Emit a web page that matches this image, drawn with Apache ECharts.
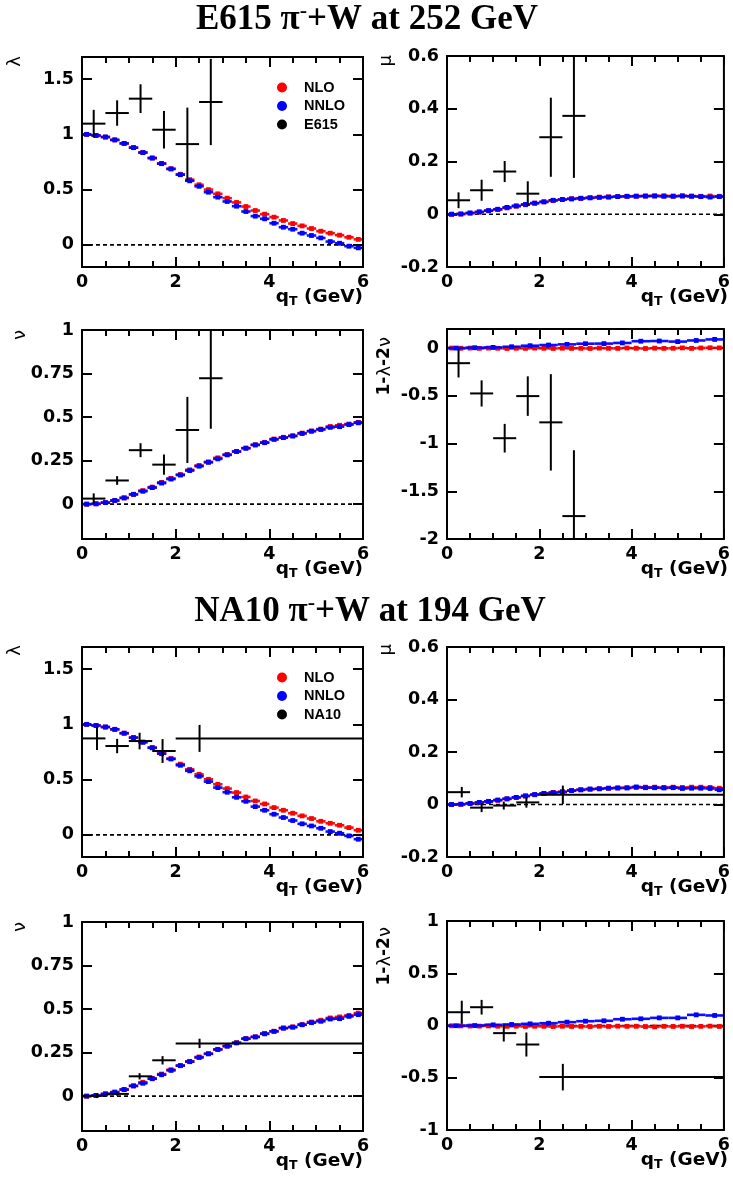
<!DOCTYPE html>
<html>
<head>
<meta charset="utf-8">
<script src="https://cdn.jsdelivr.net/npm/echarts@6/dist/echarts.min.js"></script>
<style>
html,body{margin:0;padding:0;background:#fff;}
#chart{width:733px;height:1183px;}
</style>
</head>
<body>
<div id="chart"></div>
<script>
// ---------------- DATA ----------------
const QT = [0.1,0.3,0.5,0.7,0.9,1.1,1.3,1.5,1.7,1.9,2.1,2.3,2.5,2.7,2.9,3.1,3.3,3.5,3.7,3.9,4.1,4.3,4.5,4.7,4.9,5.1,5.3,5.5,5.7,5.9];
const QT_WIDE = [0.2,0.6,1.0,1.4,1.8,2.2,2.6,3.0,3.4,3.8,4.2,4.6,5.0,5.4,5.8];
const X_TICKS = [0,2,4,6];

// E615 theory
const E615_LAMBDA_NLO  = [1.0,0.99,0.976,0.95,0.918,0.88,0.837,0.787,0.737,0.689,0.639,0.59,0.544,0.5,0.462,0.423,0.384,0.347,0.311,0.278,0.251,0.221,0.193,0.172,0.148,0.124,0.106,0.088,0.069,0.05];
const E615_LAMBDA_NNLO = [1.0,0.99,0.976,0.95,0.918,0.88,0.835,0.785,0.735,0.687,0.635,0.58,0.53,0.477,0.432,0.393,0.35,0.302,0.26,0.236,0.196,0.16,0.142,0.106,0.085,0.063,0.03,0.015,-0.012,-0.027];
const E615_MU_NLO  = [0.0,0.001,0.004,0.008,0.013,0.018,0.024,0.03,0.036,0.042,0.047,0.052,0.056,0.059,0.061,0.063,0.065,0.066,0.067,0.068,0.069,0.069,0.07,0.07,0.069,0.07,0.069,0.068,0.069,0.068];
const E615_MU_NNLO = [0.0,0.001,0.005,0.009,0.014,0.019,0.026,0.032,0.037,0.042,0.047,0.053,0.056,0.058,0.06,0.062,0.064,0.065,0.067,0.068,0.068,0.069,0.069,0.068,0.068,0.069,0.068,0.067,0.065,0.067];
const E615_NU_NLO  = [0.0,0.002,0.009,0.021,0.036,0.057,0.078,0.098,0.125,0.148,0.17,0.197,0.222,0.243,0.266,0.285,0.303,0.322,0.341,0.355,0.374,0.384,0.393,0.408,0.42,0.431,0.446,0.453,0.46,0.47];
const E615_NU_NNLO = [0.0,0.002,0.009,0.021,0.036,0.056,0.074,0.095,0.121,0.144,0.167,0.193,0.218,0.24,0.26,0.283,0.302,0.321,0.34,0.353,0.372,0.382,0.391,0.406,0.419,0.429,0.441,0.445,0.457,0.467];
const E615_LT_NLO  = [0,-0.002,0,-0.003,0,-0.002,-0.004,-0.002,-0.003,0,-0.002,-0.004,-0.001,-0.003,-0.002,-0.004,0,-0.002,-0.003,0.001,-0.002,-0.004,-0.001,-0.003,-0.002,0.002,-0.003,0.001,0.003,0.002];
const E615_LT_NNLO = [0.0,0.004,0.007,0.014,0.025,0.032,0.039,0.046,0.047,0.054,0.072,0.074,0.068,0.08,0.091];

// NA10 theory
const NA10_LAMBDA_NLO  = [1.0,0.99,0.976,0.955,0.92,0.88,0.84,0.79,0.738,0.69,0.64,0.593,0.548,0.503,0.458,0.419,0.383,0.343,0.307,0.28,0.247,0.223,0.196,0.172,0.148,0.123,0.105,0.087,0.066,0.042];
const NA10_LAMBDA_NNLO = [1.0,0.99,0.976,0.955,0.92,0.88,0.838,0.788,0.735,0.687,0.63,0.58,0.53,0.482,0.428,0.386,0.34,0.304,0.256,0.223,0.187,0.157,0.13,0.1,0.081,0.06,0.03,0.015,-0.009,-0.039];
const NA10_MU_NLO  = [0.0,0.001,0.004,0.007,0.011,0.016,0.021,0.027,0.032,0.037,0.042,0.046,0.049,0.053,0.056,0.058,0.06,0.062,0.063,0.064,0.065,0.066,0.066,0.065,0.066,0.065,0.066,0.066,0.065,0.062];
const NA10_MU_NNLO = [0.0,0.001,0.004,0.008,0.012,0.017,0.022,0.027,0.033,0.038,0.042,0.045,0.047,0.053,0.056,0.059,0.06,0.062,0.063,0.063,0.067,0.064,0.064,0.063,0.064,0.061,0.062,0.062,0.061,0.056];
const NA10_NU_NLO  = [0.0,0.004,0.013,0.023,0.038,0.059,0.08,0.102,0.127,0.152,0.176,0.2,0.225,0.244,0.269,0.288,0.307,0.331,0.341,0.36,0.373,0.392,0.398,0.411,0.426,0.436,0.449,0.455,0.464,0.477];
const NA10_NU_NNLO = [0.0,0.004,0.013,0.023,0.038,0.059,0.074,0.1,0.123,0.148,0.175,0.198,0.222,0.243,0.268,0.287,0.306,0.33,0.34,0.358,0.372,0.39,0.396,0.41,0.422,0.43,0.443,0.445,0.458,0.468];
const NA10_LT_NLO  = [-0.003,-0.004,-0.005,-0.006,-0.004,-0.007,-0.008,-0.006,-0.009,-0.007,-0.008,-0.01,-0.007,-0.009,-0.008,-0.01,-0.007,-0.009,-0.006,-0.008,-0.007,-0.01,-0.013,-0.008,-0.009,-0.007,-0.01,-0.008,-0.006,-0.009];
const NA10_LT_NNLO = [-0.002,0.0,0.006,0.01,0.016,0.022,0.032,0.041,0.045,0.06,0.064,0.073,0.073,0.102,0.096];

// E615 measurements
const E615_Q  = [0.25,0.75,1.25,1.75,2.25,2.75];
const E615_LO = [0,0.5,1,1.5,2,2.5];
const E615_HI = [0.5,1,1.5,2,2.5,3];
const E615_LAMBDA = [1.097,1.193,1.323,1.042,0.912,1.293];
const E615_LAMBDA_ERR = [0.125,0.115,0.13,0.17,0.33,0.39];
const E615_MU = [0.053,0.091,0.162,0.078,0.292,0.373];
const E615_MU_ERR = [0.03,0.04,0.04,0.047,0.15,0.235];
const E615_NU = [0.032,0.136,0.31,0.227,0.426,0.723];
const E615_NU_ERR = [0.03,0.025,0.04,0.058,0.19,0.29];
const E615_LT = [-0.158,-0.475,-0.944,-0.503,-0.778,-1.76];
const E615_LT_ERR = [0.15,0.137,0.15,0.207,0.505,0.69];

// NA10 measurements
const NA10_Q  = [0.32,0.75,1.23,1.72,2.51];
const NA10_LO = [0,0.5,1,1.5,2];
const NA10_HI = [0.5,1,1.5,2,6];
const NA10_LAMBDA = [0.873,0.804,0.849,0.759,0.873];
const NA10_LAMBDA_ERR = [0.105,0.065,0.075,0.108,0.122];
const NA10_MU = [0.047,-0.012,-0.004,0.008,0.037];
const NA10_MU_ERR = [0.02,0.017,0.015,0.02,0.035];
const NA10_NU = [0.002,0.013,0.114,0.206,0.303];
const NA10_NU_ERR = [0.013,0.01,0.018,0.024,0.027];
const NA10_LT = [0.127,0.175,-0.073,-0.182,-0.494];
const NA10_LT_ERR = [0.11,0.07,0.08,0.115,0.127];

const LAMBDA_TICKS = [0,0.5,1,1.5];
const MU_TICKS = [-0.2,0,0.2,0.4,0.6];
const NU_TICKS = [0,0.25,0.5,0.75,1];
const LT_TICKS_E615 = [-2,-1.5,-1,-0.5,0];
const LT_TICKS_NA10 = [-1,-0.5,0,0.5,1];
const ZERO_LINE = [[0,6,0]];

// ---------------- LAYOUT ----------------
const RED = '#ff0000', BLUE = '#0000ff';
const SANS = 'DejaVu Sans';
const PANELS = [
  {g:[82,57,281,210],  yr:[-0.2,1.7], ticks:LAMBDA_TICKS, yname:'lambda', nx:15, ny:56,
   nlo:E615_LAMBDA_NLO, nnlo:E615_LAMBDA_NNLO, wide:false, q:E615_Q, lo:E615_LO, hi:E615_HI, v:E615_LAMBDA, e:E615_LAMBDA_ERR, exp:'E615'},
  {g:[447,56,281,211], yr:[-0.2,0.6], ticks:MU_TICKS, yname:'mu', nx:386, ny:55,
   nlo:E615_MU_NLO, nnlo:E615_MU_NNLO, wide:false, q:E615_Q, lo:E615_LO, hi:E615_HI, v:E615_MU, e:E615_MU_ERR, exp:'E615'},
  {g:[82,330,281,209], yr:[-0.2,1], ticks:NU_TICKS, yname:'nu', nx:20, ny:330,
   nlo:E615_NU_NLO, nnlo:E615_NU_NNLO, wide:false, q:E615_Q, lo:E615_LO, hi:E615_HI, v:E615_NU, e:E615_NU_ERR, exp:'E615'},
  {g:[447,329,281,210], yr:[-2,0.2], ticks:LT_TICKS_E615, yname:'lt', nx:385, ny:337,
   nlo:E615_LT_NLO, nnlo:E615_LT_NNLO, wide:true, q:E615_Q, lo:E615_LO, hi:E615_HI, v:E615_LT, e:E615_LT_ERR, exp:'E615'},
  {g:[82,647,281,210], yr:[-0.2,1.7], ticks:LAMBDA_TICKS, yname:'lambda', nx:15, ny:645,
   nlo:NA10_LAMBDA_NLO, nnlo:NA10_LAMBDA_NNLO, wide:false, q:NA10_Q, lo:NA10_LO, hi:NA10_HI, v:NA10_LAMBDA, e:NA10_LAMBDA_ERR, exp:'NA10'},
  {g:[447,647,281,210], yr:[-0.2,0.6], ticks:MU_TICKS, yname:'mu', nx:386, ny:644,
   nlo:NA10_MU_NLO, nnlo:NA10_MU_NNLO, wide:false, q:NA10_Q, lo:NA10_LO, hi:NA10_HI, v:NA10_MU, e:NA10_MU_ERR, exp:'NA10'},
  {g:[82,922,281,209], yr:[-0.2,1], ticks:NU_TICKS, yname:'nu', nx:20, ny:922,
   nlo:NA10_NU_NLO, nnlo:NA10_NU_NNLO, wide:false, q:NA10_Q, lo:NA10_LO, hi:NA10_HI, v:NA10_NU, e:NA10_NU_ERR, exp:'NA10'},
  {g:[447,921,281,209], yr:[-1,1], ticks:LT_TICKS_NA10, yname:'lt', nx:385, ny:927,
   nlo:NA10_LT_NLO, nnlo:NA10_LT_NNLO, wide:true, q:NA10_Q, lo:NA10_LO, hi:NA10_HI, v:NA10_LT, e:NA10_LT_ERR, exp:'NA10'}
];

function clamp(v,a,b){return Math.max(a,Math.min(b,v));}

function theoryRender(color){
  return function(params, api){
    const cs = params.coordSys;
    const top = cs.y, bot = cs.y + cs.height, L = cs.x, R = cs.x + cs.width;
    const x = api.value(0), y = api.value(1), xl = api.value(2), xh = api.value(3);
    const c = api.coord([x,y]);
    if (c[1] < top - 0.5 || c[1] > bot + 0.5) return;
    const a = api.coord([xl,y]), b = api.coord([xh,y]);
    return {type:'group', children:[
      {type:'line', shape:{x1:Math.max(a[0],L), y1:c[1], x2:Math.min(b[0],R), y2:c[1]},
       style:{stroke:color, lineWidth:2.6, opacity:0.95}},
      {type:'rect', shape:{x:c[0]-2.4, y:c[1]-2.4, width:4.8, height:4.8}, style:{fill:color}}
    ]};
  };
}

function dataRender(params, api){
  const cs = params.coordSys;
  const top = cs.y, bot = cs.y + cs.height, L = cs.x, R = cs.x + cs.width;
  const x = api.value(0), y = api.value(1), xl = api.value(2), xh = api.value(3), e = api.value(4);
  const c = api.coord([x,y]);
  const a = api.coord([xl,y]), b = api.coord([xh,y]);
  const eh = api.coord([x,y+e]), el = api.coord([x,y-e]);
  const children = [];
  const y1 = clamp(eh[1], top, bot), y2 = clamp(el[1], top, bot);
  if (y2 > y1) children.push({type:'line', shape:{x1:c[0], y1:y1, x2:c[0], y2:y2}, style:{stroke:'#000', lineWidth:2}});
  if (c[1] >= top && c[1] <= bot) children.push({type:'line', shape:{x1:Math.max(a[0],L), y1:c[1], x2:Math.min(b[0],R), y2:c[1]}, style:{stroke:'#000', lineWidth:2}});
  return {type:'group', children};
}

function zeroRender(params, api){
  const a = api.coord([api.value(0), api.value(2)]);
  const b = api.coord([api.value(1), api.value(2)]);
  return {type:'line', shape:{x1:a[0], y1:a[1], x2:b[0], y2:b[1]},
          style:{stroke:'#000', lineWidth:1.6, lineDash:[4,3]}};
}

const grids = [], xAxes = [], yAxes = [], series = [], graphics = [];
const labelFont = {fontFamily:SANS, fontWeight:'bold', fontSize:17.5, color:'#000'};

PANELS.forEach((p, i) => {
  grids.push({left:p.g[0], top:p.g[1], width:p.g[2], height:p.g[3], show:true,
              borderColor:'#000', borderWidth:2, backgroundColor:'transparent', z:10});
  [0,1].forEach(k => {
    xAxes.push({type:'value', gridIndex:i, position:k===0?'bottom':'top', min:0, max:6,
      interval:2, axisLine:{show:false, onZero:false},
      axisTick:{show:true, inside:true, length:10, lineStyle:{color:'#000', width:2}},
      minorTick:{show:true, splitNumber:4, length:6, lineStyle:{color:'#000', width:2}},
      splitLine:{show:false}, minorSplitLine:{show:false},
      axisLabel:Object.assign({show:k===0, margin:6, customValues:X_TICKS}, labelFont)});
  });
  [0,1].forEach(k => {
    yAxes.push({type:'value', gridIndex:i, position:k===0?'left':'right', min:p.yr[0], max:p.yr[1],
      axisLine:{show:false, onZero:false},
      axisTick:{show:true, inside:true, length:10, customValues:p.ticks, lineStyle:{color:'#000', width:2}},
      splitLine:{show:false},
      axisLabel:Object.assign({show:k===0, margin:8, customValues:p.ticks}, labelFont)});
  });
  const xi = 2*i, yi = 2*i;
  series.push({type:'custom', name:'zero', xAxisIndex:xi, yAxisIndex:yi, z:1, silent:true,
    renderItem:zeroRender, encode:{x:[0,1], y:2}, data:ZERO_LINE});
  const nloData = QT.map((x,j) => [x, p.nlo[j], x-0.1, x+0.1]);
  const nx = p.wide ? QT_WIDE : QT;
  const hw = p.wide ? 0.2 : 0.1;
  const nnloData = nx.map((x,j) => [x, p.nnlo[j], x-hw, x+hw]);
  series.push({type:'custom', name:'NLO', xAxisIndex:xi, yAxisIndex:yi, z:3, itemStyle:{color:RED},
    renderItem:theoryRender(RED), encode:{x:[0,2,3], y:1}, data:nloData});
  series.push({type:'custom', name:'NNLO', xAxisIndex:xi, yAxisIndex:yi, z:4, itemStyle:{color:BLUE},
    renderItem:theoryRender(BLUE), encode:{x:[0,2,3], y:1}, data:nnloData});
  const dd = p.q.map((x,j) => [x, p.v[j], p.lo[j], p.hi[j], p.e[j]]);
  series.push({type:'custom', name:p.exp, xAxisIndex:xi, yAxisIndex:yi, z:5, itemStyle:{color:'#000'},
    renderItem:dataRender, encode:{x:[0,2,3], y:1}, data:dd});

  graphics.push({type:'text', x:p.g[0]+p.g[2], y:p.g[1]+p.g[3]+20, z:20,
    style:{text:'{a|q}{s|T}{a| (GeV)}', align:'right', verticalAlign:'top',
      rich:{a:{fontFamily:SANS, fontWeight:'bold', fontSize:18.5, lineHeight:21, fill:'#000'},
            s:{fontFamily:SANS, fontWeight:'bold', fontSize:12.5, lineHeight:8, verticalAlign:'bottom', fill:'#000'}}}});
  let txt, rich = {b:{fontFamily:SANS, fontWeight:'bold', fontSize:17, fill:'#000'},
                   g:{fontFamily:SANS, fontWeight:'normal', fontSize:18, fill:'#000'}};
  if (p.yname==='lambda') txt='{g|λ}';
  else if (p.yname==='mu') txt='{g|μ}';
  else if (p.yname==='nu') txt='{g|ν}';
  else txt='{b|1-}{g|λ}{b|-2}{g|ν}';
  graphics.push({type:'text', x:p.nx, y:p.ny, rotation:Math.PI/2, z:20,
    style:{text:txt, align:'right', verticalAlign:'middle', rich:rich}});
});

const titleRich = {t:{fontFamily:'Liberation Serif', fontWeight:'bold', fontSize:35, lineHeight:40, fill:'#000'},
                   sup:{fontFamily:'Liberation Serif', fontWeight:'bold', fontSize:22, lineHeight:22, verticalAlign:'top', fill:'#000'}};
graphics.push({type:'text', x:367, y:0, z:20,
  style:{text:'{t|E615 π}{sup|-}{t|+W at 252 GeV}', align:'center', verticalAlign:'top', rich:titleRich}});
graphics.push({type:'text', x:370, y:592, z:20,
  style:{text:'{t|NA10 π}{sup|-}{t|+W at 194 GeV}', align:'center', verticalAlign:'top', rich:titleRich}});

function legendFor(top, exp){
  return {left:272, top:top, orient:'vertical', itemWidth:10, itemHeight:10, itemGap:3.5,
    icon:'circle', selectedMode:false,
    data:[{name:'NLO', itemStyle:{color:RED}}, {name:'NNLO', itemStyle:{color:BLUE}}, {name:exp, itemStyle:{color:'#000'}}],
    textStyle:{fontFamily:'Liberation Sans', fontWeight:'bold', fontSize:14.5, lineHeight:14, color:'#000', padding:[0,0,0,12]}};
}

const chart = echarts.init(document.getElementById('chart'), null, {renderer:'canvas'});
chart.setOption({
  animation:false,
  backgroundColor:'#fff',
  grid:grids, xAxis:xAxes, yAxis:yAxes, series:series,
  legend:[legendFor(75,'E615'), legendFor(665,'NA10')],
  graphic:graphics
});
</script>
</body>
</html>
